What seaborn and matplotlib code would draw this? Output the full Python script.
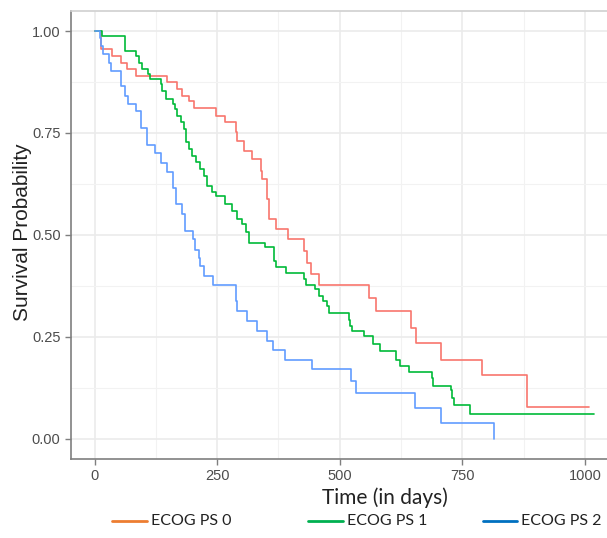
import pandas as pd
import seaborn as sns
import matplotlib.pyplot as plt
from matplotlib.lines import Line2D
from matplotlib.ticker import MultipleLocator

# Kaplan-Meier step points (time in days, survival after the drop)
ps0_time = [0, 14, 35, 53, 67, 84, 148, 169, 179, 192, 203, 247, 267, 288, 291, 305, 322,
            339, 342, 351, 356, 371, 395, 427, 433, 442, 458, 560, 575, 645, 655, 706,
            791, 882, 1008]
ps0_surv = [1.0, 0.956, 0.938, 0.923, 0.907, 0.890, 0.874, 0.857, 0.841, 0.829, 0.812,
            0.792, 0.776, 0.752, 0.730, 0.706, 0.686, 0.657, 0.636, 0.587, 0.538, 0.514,
            0.489, 0.460, 0.432, 0.403, 0.376, 0.346, 0.313, 0.272, 0.235, 0.194, 0.157,
            0.078, 0.078]

ps1_time = [0, 16, 63, 84, 90, 97, 109, 114, 135, 138, 145, 159, 165, 169, 176, 182, 186,
            192, 199, 206, 216, 224, 230, 240, 247, 267, 281, 291, 301, 308, 316, 347,
            365, 371, 390, 427, 431, 449, 458, 465, 475, 478, 519, 522, 526, 550, 567,
            582, 614, 624, 641, 688, 690, 727, 730, 733, 766, 1019]
ps1_surv = [1.0, 0.988, 0.952, 0.940, 0.923, 0.907, 0.894, 0.882, 0.870, 0.853, 0.833,
            0.821, 0.808, 0.792, 0.776, 0.759, 0.727, 0.710, 0.694, 0.678, 0.661, 0.644,
            0.620, 0.604, 0.595, 0.575, 0.558, 0.538, 0.526, 0.506, 0.481, 0.471, 0.436,
            0.422, 0.407, 0.391, 0.378, 0.366, 0.350, 0.337, 0.325, 0.309, 0.292, 0.276,
            0.264, 0.251, 0.231, 0.214, 0.194, 0.178, 0.163, 0.149, 0.130, 0.120, 0.100,
            0.083, 0.061, 0.061]

ps2_time = [0, 12, 14, 17, 29, 33, 53, 63, 69, 85, 94, 107, 124, 135, 147, 159, 167, 179,
            184, 201, 204, 213, 216, 224, 242, 288, 291, 310, 331, 352, 363, 388, 444,
            524, 533, 653, 706, 814]
ps2_surv = [1.0, 0.984, 0.964, 0.945, 0.923, 0.902, 0.866, 0.841, 0.822, 0.803, 0.763,
            0.721, 0.702, 0.677, 0.654, 0.616, 0.575, 0.550, 0.509, 0.489, 0.464, 0.444,
            0.423, 0.400, 0.378, 0.337, 0.313, 0.288, 0.264, 0.239, 0.217, 0.192, 0.170,
            0.141, 0.112, 0.075, 0.039, 0.0]

groups = ["ECOG PS 0", "ECOG PS 1", "ECOG PS 2"]
curve_colors = ["#F8766D", "#00BA38", "#619CFF"]
legend_colors = ["#ED7D31", "#00B050", "#0070C0"]

df = pd.concat([
    pd.DataFrame({"time": ps0_time, "surv": ps0_surv, "group": groups[0]}),
    pd.DataFrame({"time": ps1_time, "surv": ps1_surv, "group": groups[1]}),
    pd.DataFrame({"time": ps2_time, "surv": ps2_surv, "group": groups[2]}),
])

sns.set_theme(style="white")
plt.rcParams['font.family'] = ['Liberation Sans', 'DejaVu Sans']

fig = plt.figure(figsize=(6.07, 5.38), dpi=100)
ax = fig.add_axes([0.117, 0.147, 0.903, 0.833])

sns.lineplot(data=df, x="time", y="surv", hue="group", palette=curve_colors,
             drawstyle="steps-post", estimator=None, legend=False, lw=1.2, ax=ax)

ax.set_xlim(-48, 1070)
ax.set_ylim(-0.05, 1.05)
ax.xaxis.set_major_locator(MultipleLocator(250))
ax.xaxis.set_minor_locator(MultipleLocator(125))
ax.yaxis.set_major_locator(MultipleLocator(0.25))
ax.yaxis.set_minor_locator(MultipleLocator(0.125))
ax.yaxis.set_major_formatter(plt.FuncFormatter(lambda v, p: f"{v:.2f}"))
ax.grid(which="major", color="#EBEBEB", lw=1.2)
ax.grid(which="minor", color="#F2F2F2", lw=0.8)
ax.set_axisbelow(True)

for side in ["left", "bottom", "top", "right"]:
    ax.spines[side].set_color("#7F7F7F")
    ax.spines[side].set_linewidth(1.2)
ax.spines["top"].set_color("#D0D0D0")

ax.tick_params(axis="both", which="major", length=4, width=1, color="#7F7F7F",
               labelcolor="#4D4D4D", labelsize=10.5, direction="out",
               left=True, bottom=True)
ax.tick_params(axis="both", which="minor", length=0)

ax.set_xlabel("")
ax.set_ylabel("Survival Probability", fontsize=15, color="#222222")
ax.yaxis.set_label_coords(-0.072, 0.505)

fig.text(0.634, 0.075, "Time (in days)", ha="center", va="center", fontsize=15,
         color="#222222", family=['Lato', 'DejaVu Sans'])

leg_x = [0.185, 0.508, 0.795]
for gx, name, c in zip(leg_x, groups, legend_colors):
    fig.add_artist(Line2D([gx, gx + 0.057], [0.031, 0.031], color=c, lw=2,
                          transform=fig.transFigure))
    fig.text(gx + 0.063, 0.031, name, ha="left", va="center", fontsize=11.5,
             color="#222222", family=['Lato', 'DejaVu Sans'])

fig.savefig("out.png", dpi=100)
